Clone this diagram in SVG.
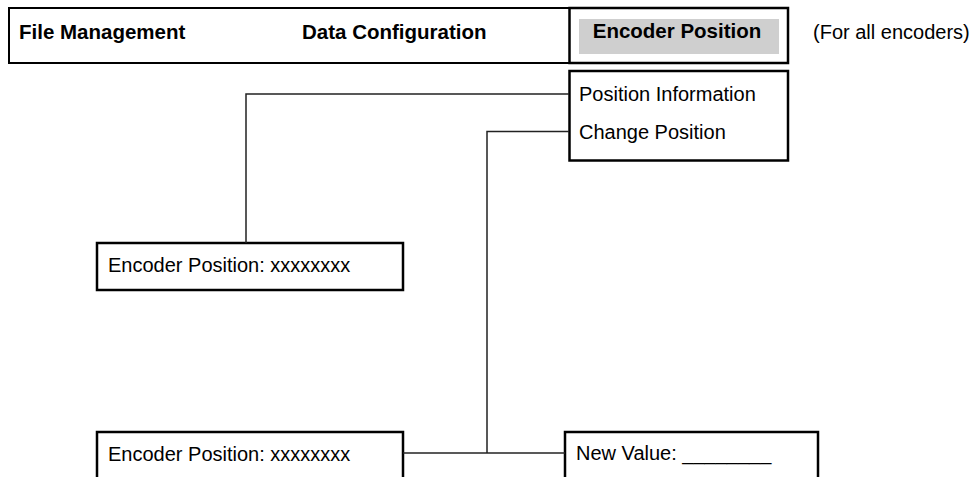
<svg xmlns="http://www.w3.org/2000/svg" width="978" height="477" viewBox="0 0 978 477">
<style>
.box{fill:#fff;stroke:#000;stroke-width:2.5}
.t{font-family:"Liberation Sans",Arial,sans-serif;font-size:20px;fill:#000}
.b{font-weight:bold;font-size:20.5px}
.conn{fill:none;stroke:#222;stroke-width:1.5}
</style>
<rect width="978" height="477" fill="#fff"/>
<g id="menu-bar">
<rect class="box" x="9" y="8" width="779" height="55" style="stroke-width:2"/>
<rect class="box" x="569.5" y="8" width="218.5" height="55"/>
<rect x="579" y="19" width="200" height="35" fill="#cfcfcf"/>
<text class="t b" x="19" y="39">File Management</text>
<text class="t b" x="302" y="39">Data Configuration</text>
<text class="t b" x="677" y="38" text-anchor="middle">Encoder Position</text>
</g>
<g id="note">
<text class="t" x="813" y="39">(For all encoders)</text>
</g>
<g id="submenu">
<rect class="box" x="569.5" y="71" width="218.5" height="89.5"/>
<text class="t" x="579" y="101">Position Information</text>
<text class="t" x="579" y="139">Change Position</text>
</g>
<g id="position-info">
<rect class="box" x="97" y="243" width="306" height="47"/>
<text class="t" x="108" y="272">Encoder Position: xxxxxxxx</text>
</g>
<g id="change-position">
<rect class="box" x="97" y="432" width="306" height="60"/>
<text class="t" x="108" y="461">Encoder Position: xxxxxxxx</text>
</g>
<g id="new-value">
<rect class="box" x="565" y="432" width="253" height="60"/>
<text class="t" x="576" y="460">New Value: ________</text>
</g>
<g id="connectors">
<path class="conn" d="M569,94 H246 V243"/>
<path class="conn" d="M569,131.5 H487 V453"/>
<path class="conn" d="M403,453 H565"/>
</g>
</svg>
